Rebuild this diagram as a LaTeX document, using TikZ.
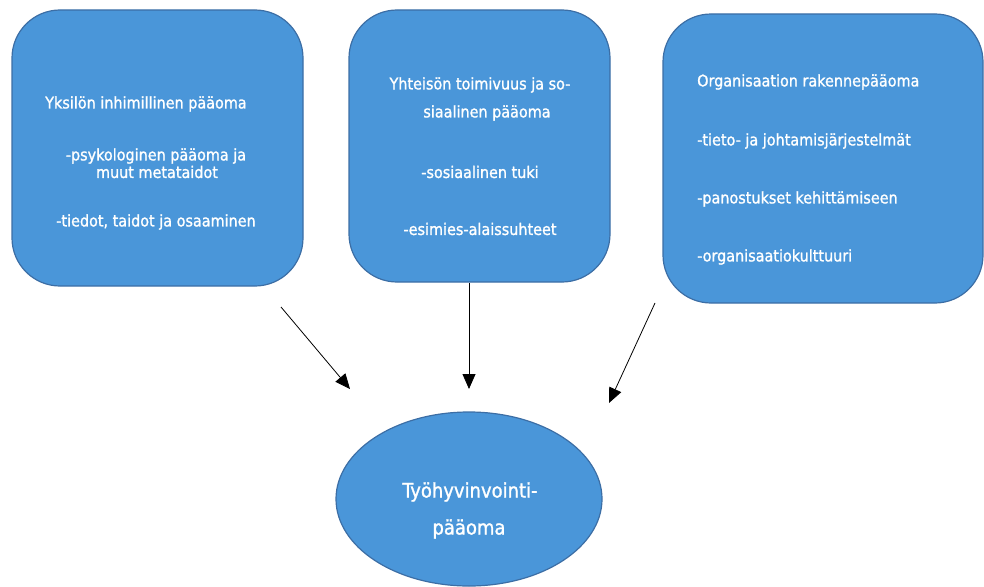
\documentclass[tikz,border=0pt]{standalone}
\usepackage{fontspec}
\setmainfont{DejaVu Sans Condensed}[FakeBold=1.2]
\usetikzlibrary{shapes.geometric,arrows.meta}
\definecolor{boxfill}{RGB}{74,150,217}
\definecolor{boxline}{RGB}{60,110,165}
\tikzset{
  capbox/.style={draw=boxline, fill=boxfill, line width=1.2pt, rounded corners=48pt},
  boxtext/.style={text=white, font=\fontsize{16}{18}\selectfont, inner sep=0pt},
  bigtext/.style={text=white, font=\fontsize{20}{22}\selectfont, inner sep=0pt},
  flow/.style={line width=0.8pt, -{Triangle[length=15pt,width=13pt]}}
}
\begin{document}
\begin{tikzpicture}[x=1pt,y=-1pt]
\useasboundingbox (0,0) rectangle (984,586);

% three source boxes
\draw[capbox] (12,10) rectangle (303,286);
\draw[capbox] (349,10) rectangle (610,282);
\draw[capbox] (663,14) rectangle (983,303);
\coordinate (b1out) at (281,307);
\coordinate (b2out) at (469,283);
\coordinate (b3out) at (655,303);

% individual human capital
\node[boxtext] (t1a) at (146,104) {Yksilön inhimillinen pääoma};
\node[boxtext] (t1b) at (156,156) {-psykologinen pääoma ja};
\node[boxtext] (t1c) at (157,172) {muut metataidot};
\node[boxtext] (t1d) at (156,222) {-tiedot, taidot ja osaaminen};

% community and social capital
\node[boxtext] (t2a) at (480,85) {Yhteisön toimivuus ja so-};
\node[boxtext] (t2b) at (487,113) {siaalinen pääoma};
\node[boxtext] (t2c) at (480,172) {-sosiaalinen tuki};
\node[boxtext] (t2d) at (480,229) {-esimies-alaissuhteet};

% organisational structural capital
\node[boxtext, anchor=west] (t3a) at (697,82) {Organisaation rakennepääoma};
\node[boxtext, anchor=west] (t3b) at (697,141) {-tieto- ja johtamisjärjestelmät};
\node[boxtext, anchor=west] (t3c) at (697,199) {-panostukset kehittämiseen};
\node[boxtext, anchor=west] (t3d) at (697,257) {-organisaatiokulttuuri};

% target ellipse
\node[ellipse, draw=boxline, fill=boxfill, line width=1.2pt,
      minimum width=266pt, minimum height=174pt, inner sep=0pt] (goal) at (469,499) {};
\node[bigtext] (g1) at (470,492) {Työhyvinvointi-};
\node[bigtext] (g2) at (469,529) {pääoma};

% arrow tips stop short of the ellipse
\coordinate (e1) at (350,389);
\coordinate (e2) at (469,389);
\coordinate (e3) at (609,403);
\draw[flow] (b1out) -- (e1);
\draw[flow] (b2out) -- (e2);
\draw[flow] (b3out) -- (e3);
\end{tikzpicture}
\end{document}
